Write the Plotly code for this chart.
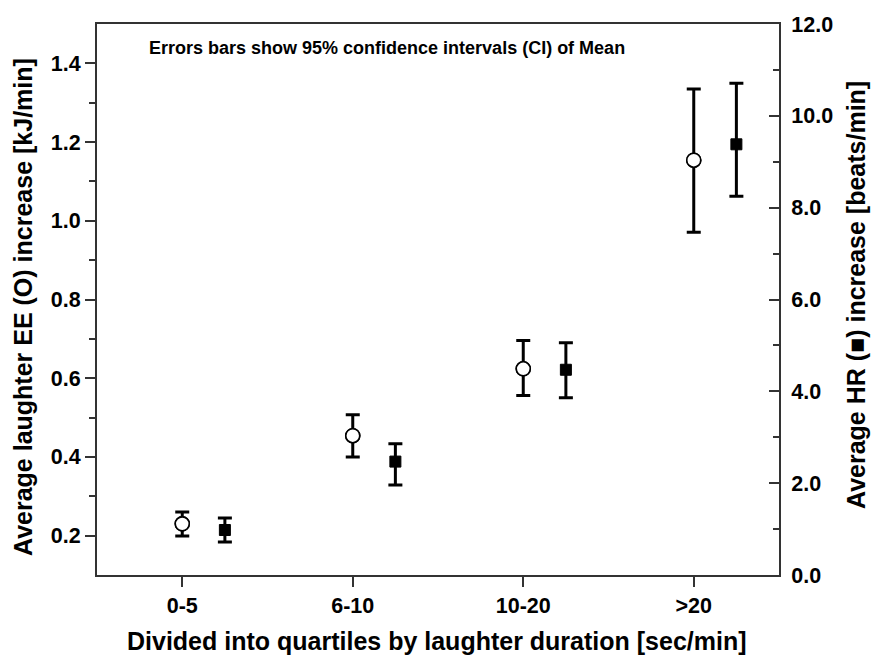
import plotly.graph_objects as go
import numpy as np

# Laughter-duration quartiles [sec/min]
categories = ["0-5", "6-10", "10-20", ">20"]

# Energy expenditure increase [kJ/min]: mean and 95% CI bounds
ee_mean = [0.230, 0.454, 0.624, 1.154]
ee_upper = [0.260, 0.507, 0.696, 1.335]
ee_lower = [0.199, 0.400, 0.556, 0.971]

# Heart-rate increase [beats/min]: mean and 95% CI bounds
hr_mean = [0.98, 2.47, 4.47, 9.38]
hr_upper = [1.24, 2.86, 5.06, 10.71]
hr_lower = [0.72, 1.96, 3.86, 8.25]

left_ticks = [0.2, 0.4, 0.6, 0.8, 1.0, 1.2, 1.4]
right_ticks = [0.0, 2.0, 4.0, 6.0, 8.0, 10.0, 12.0]

pos = np.arange(len(categories))
hr_shift = 0.25  # HR markers sit just right of the EE markers

ee_mean_a = np.array(ee_mean)
hr_mean_a = np.array(hr_mean)

FONT = "Liberation Sans"
AX = "#333333"

fig = go.Figure()

fig.add_trace(go.Scatter(
    x=pos, y=ee_mean_a, mode="markers", yaxis="y",
    marker=dict(symbol="circle", size=14, color="white",
                line=dict(color="black", width=1.6)),
    error_y=dict(type="data", symmetric=False,
                 array=np.array(ee_upper) - ee_mean_a,
                 arrayminus=ee_mean_a - np.array(ee_lower),
                 thickness=3, width=7, color="black"),
    showlegend=False,
))

fig.add_trace(go.Scatter(
    x=pos + hr_shift, y=hr_mean_a, mode="markers", yaxis="y2",
    marker=dict(symbol="square", size=11, color="black",
                line=dict(color="black", width=1)),
    error_y=dict(type="data", symmetric=False,
                 array=np.array(hr_upper) - hr_mean_a,
                 arrayminus=hr_mean_a - np.array(hr_lower),
                 thickness=3, width=7, color="black"),
    showlegend=False,
))

# Error bars are drawn behind markers; re-draw the open circles on top
fig.add_trace(go.Scatter(
    x=pos, y=ee_mean_a, mode="markers", yaxis="y",
    marker=dict(symbol="circle", size=14, color="white",
                line=dict(color="black", width=1.6)),
    showlegend=False, hoverinfo="skip",
))

tickfont = dict(family=FONT, size=21.5, color="black", weight="bold")
titlefont = dict(family=FONT, size=25, color="black", weight="bold")

fig.update_layout(
    width=871, height=657,
    margin=dict(l=97, r=92, t=24, b=82),
    paper_bgcolor="white", plot_bgcolor="white",
    xaxis=dict(
        range=[-0.5, 3.5], tickvals=list(pos), ticktext=categories,
        showline=True, linecolor=AX, linewidth=2, mirror=True,
        ticks="outside", ticklen=10, tickwidth=2, tickcolor=AX,
        showgrid=False, zeroline=False, tickfont=tickfont,
    ),
    yaxis=dict(
        range=[0.1, 1.5], tickvals=left_ticks,
        ticktext=[f"{v:.1f}" for v in left_ticks],
        showline=True, linecolor=AX, linewidth=2,
        ticks="outside", ticklen=10, tickwidth=2, tickcolor=AX,
        minor=dict(ticks="outside", ticklen=6, tickwidth=2, tickcolor=AX,
                   tickvals=[0.3, 0.5, 0.7, 0.9, 1.1, 1.3]),
        showgrid=False, zeroline=False, tickfont=tickfont,
    ),
    yaxis2=dict(
        range=[0, 12], tickvals=right_ticks,
        ticktext=[f"{v:.1f}" for v in right_ticks],
        overlaying="y", side="right",
        showline=True, linecolor=AX, linewidth=2,
        ticks="inside", ticklen=10, tickwidth=2, tickcolor=AX,
        ticklabelstandoff=6,
        minor=dict(ticks="inside", ticklen=6, tickwidth=2, tickcolor=AX,
                   tickvals=[1, 3, 5, 7, 9, 11]),
        showgrid=False, zeroline=False, tickfont=tickfont,
    ),
    annotations=[
        dict(text="Errors bars show 95% confidence intervals (CI) of Mean",
             xref="paper", yref="paper", x=0.073, y=0.956,
             xanchor="left", yanchor="middle", showarrow=False,
             font=dict(family=FONT, size=18, color="black", weight="bold")),
        dict(text="Divided into quartiles by laughter duration [sec/min]",
             xref="paper", yref="paper", x=(437 - 97) / 682, y=(575 - 641) / 551,
             xanchor="center", yanchor="middle", showarrow=False,
             font=titlefont),
        dict(text="Average laughter EE (O) increase [kJ/min]",
             xref="paper", yref="paper", x=(23 - 97) / 682, y=(575 - 307) / 551,
             xanchor="center", yanchor="middle", showarrow=False, textangle=-90,
             font=titlefont),
        dict(text="Average HR (\u25a0) increase [beats/min]",
             xref="paper", yref="paper", x=(856 - 97) / 682, y=(575 - 295) / 551,
             xanchor="center", yanchor="middle", showarrow=False, textangle=-90,
             font=titlefont),
    ],
)

fig.write_html("out.html")
